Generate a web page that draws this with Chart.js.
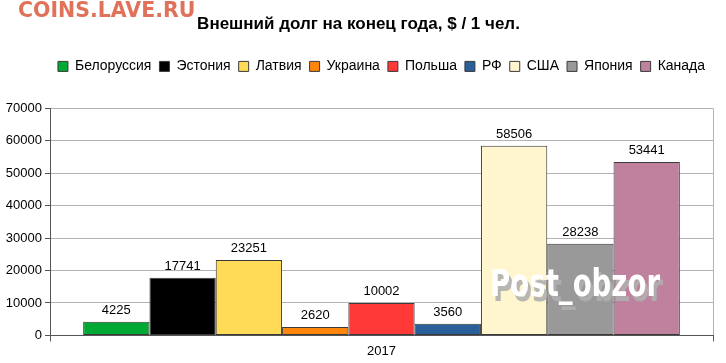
<!DOCTYPE html>
<html><head><meta charset="utf-8">
<script src="https://cdn.jsdelivr.net/npm/chart.js@4"></script>
<style>html,body{margin:0;padding:0;background:#fff}#wrap{width:726px;height:363px}</style>
</head><body><div id="wrap"><canvas id="c" width="726" height="363"></canvas></div>
<script>
const categories = ['2017'];
const countries = ['Белоруссия','Эстония','Латвия','Украина','Польша','РФ','США','Япония','Канада'];
const values = [4225, 17741, 23251, 2620, 10002, 3560, 58506, 28238, 53441];
const colors = ['#00a933','#000000','#ffdb58','#ff860d','#ff3838','#2a6099','#fff5ce','#999999','#bf819e'];
const yTicks = [0,10000,20000,30000,40000,50000,60000,70000];

const FONT = "'Liberation Sans', Arial, sans-serif";

const legendSpace = {
  id: 'legendSpace',
  beforeLayout(chart) {
    const lg = chart.legend;
    if (lg && !lg._patched) {
      const origU = lg.update;
      lg.update = function(w, h, m) {
        const r = origU.call(this, w, h, m);
        this.height += 25;
        return r;
      };
      const origD = lg.draw;
      lg.draw = function() {
        const d = (chart.chartArea.left + chart.chartArea.right) / 2 - (this.left + this.right) / 2;
        this.left += d; this.right += d;
        const r = origD.apply(this, arguments);
        this.left -= d; this.right -= d;
        return r;
      };
      lg._patched = true;
    }
  }
};

const labelPlugin = {
  id: 'vals',
  afterDatasetsDraw(chart) {
    const ctx = chart.ctx;
    ctx.save();
    ctx.font = '13px ' + FONT;
    ctx.fillStyle = '#000';
    ctx.textAlign = 'center';
    ctx.textBaseline = 'bottom';
    chart.data.datasets.forEach((ds, i) => {
      const el = chart.getDatasetMeta(i).data[0];
      ctx.fillText(String(ds.data[0]), el.x, el.y - 5);
    });
    ctx.restore();
  },
  afterDraw(chart) {
    const ctx = chart.ctx;
    ctx.save();
    ctx.font = 'bold 20.5px "DejaVu Sans", sans-serif';
    ctx.fillStyle = '#e0725a';
    ctx.textBaseline = 'alphabetic';
    ctx.textAlign = 'left';
    ctx.fillText('COINS.LAVE.RU', 18, 17);
    ctx.font = 'bold 37px "DejaVu Sans Condensed", "DejaVu Sans", sans-serif';
    const w = ctx.measureText('Post_obzor').width;
    const sx = 170 / w;
    ctx.translate(490, 0);
    ctx.scale(sx, 1);
    ctx.fillStyle = 'rgba(175,175,175,0.9)';
    ctx.fillText('Post_obzor', 3 / sx, 301);
    ctx.fillStyle = '#ffffff';
    ctx.fillText('Post_obzor', 0, 296);
    ctx.restore();
  }
};

new Chart(document.getElementById('c'), {
  type: 'bar',
  data: {
    labels: categories,
    datasets: countries.map((name, i) => ({
      label: name,
      data: [values[i]],
      backgroundColor: colors[i],
      borderColor: '#3a3a3a',
      borderWidth: 1,
      borderSkipped: false
    }))
  },
  options: {
    responsive: false,
    animation: false,
    devicePixelRatio: 1,
    layout: { padding: { left: 4, right: 13, top: 0, bottom: 2 } },
    datasets: { bar: { categoryPercentage: 0.9, barPercentage: 1 } },
    plugins: {
      tooltip: { enabled: false },
      title: {
        display: true,
        text: 'Внешний долг на конец года, $ / 1 чел.',
        font: { family: FONT, size: 17, weight: 'bold' },
        color: '#000',
        padding: { top: 14, bottom: 17 }
      },
      legend: {
        display: true,
        labels: {
          font: { family: FONT, size: 14 },
          color: '#000',
          boxWidth: 10,
          boxHeight: 10,
          padding: 8,
          generateLabels(chart) {
            return chart.data.datasets.map((ds, i) => ({
              text: ds.label,
              fillStyle: ds.backgroundColor,
              strokeStyle: '#3a3a3a',
              lineWidth: 1,
              datasetIndex: i,
              fontColor: '#000'
            }));
          }
        }
      }
    },
    scales: {
      x: {
        grid: { display: true, offset: true, color: '#b3b3b3', drawOnChartArea: true, drawTicks: true, tickLength: 6, tickColor: '#555' },
        border: { display: true, color: '#555', width: 1 },
        ticks: { font: { family: FONT, size: 13 }, color: '#000', padding: 2 }
      },
      y: {
        min: 0, max: 70000,
        afterBuildTicks(scale) { scale.ticks = yTicks.map(v => ({ value: v })); },
        afterFit(scale) { scale.width = 46; },
        grid: { color: '#b3b3b3', drawTicks: true, tickLength: 5, tickColor: '#555' },
        border: { display: true, color: '#555', width: 1 },
        ticks: { font: { family: FONT, size: 13 }, color: '#000', padding: 3, callback: v => String(v) }
      }
    }
  },
  plugins: [legendSpace, labelPlugin]
});
</script></body></html>
